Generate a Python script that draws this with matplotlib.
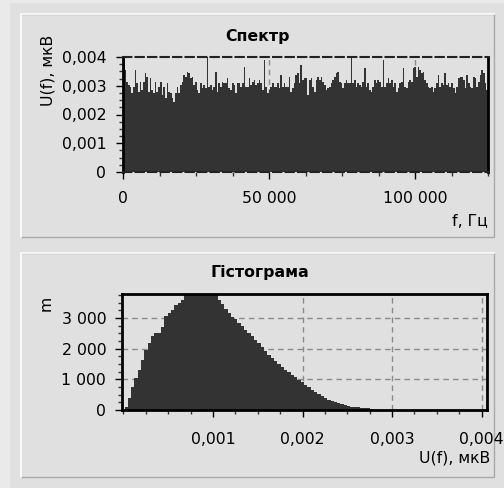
import numpy as np
import matplotlib
matplotlib.use("Agg")
import matplotlib.pyplot as plt
from matplotlib.patches import Rectangle
from matplotlib.lines import Line2D
from matplotlib.ticker import FuncFormatter, MultipleLocator

# ---------------- data ----------------
spec_fmax = 125000
spec_vals = [
    0.00400, 0.00355, 0.00314, 0.00303, 0.00297, 0.00274, 0.00297, 0.00355, 0.00308, 0.00279,
    0.00314, 0.00285, 0.00314, 0.00343, 0.00332, 0.00279, 0.00326, 0.00285, 0.00274, 0.00314,
    0.00279, 0.00297, 0.00314, 0.00268, 0.00297, 0.00256, 0.00308, 0.00279, 0.00274, 0.00256,
    0.00245, 0.00274, 0.00297, 0.00274, 0.00303, 0.00314, 0.00337, 0.00332, 0.00349, 0.00343,
    0.00326, 0.00332, 0.00303, 0.00314, 0.00285, 0.00274, 0.00308, 0.00291, 0.00303, 0.00291,
    0.00400, 0.00297, 0.00303, 0.00285,
    0.00297, 0.00349, 0.00279, 0.00308, 0.00297, 0.00314, 0.00308, 0.00308, 0.00326, 0.00291,
    0.00285, 0.00308, 0.00303, 0.00274, 0.00308, 0.00308, 0.00297, 0.00308, 0.00366, 0.00297,
    0.00297, 0.00326, 0.00303, 0.00314, 0.00320, 0.00303, 0.00308, 0.00320, 0.00308, 0.00285,
    0.00390, 0.00297, 0.00274, 0.00285, 0.00297, 0.00308, 0.00297, 0.00297, 0.00308, 0.00291,
    0.00337, 0.00297, 0.00308, 0.00297, 0.00297, 0.00332, 0.00279, 0.00291, 0.00308, 0.00337,
    0.00343, 0.00308, 0.00372, 0.00320, 0.00326,
    0.00326, 0.00268, 0.00320, 0.00326, 0.00297, 0.00279, 0.00320, 0.00332, 0.00320, 0.00332,
    0.00314, 0.00303, 0.00285, 0.00291, 0.00297, 0.00308, 0.00320, 0.00332, 0.00343, 0.00349,
    0.00314, 0.00308, 0.00291, 0.00308, 0.00320, 0.00308, 0.00308, 0.00400, 0.00308, 0.00320,
    0.00297, 0.00308, 0.00303, 0.00297, 0.00314, 0.00361, 0.00297, 0.00308, 0.00285, 0.00279,
    0.00297, 0.00320, 0.00308, 0.00320, 0.00314, 0.00297, 0.00390, 0.00297, 0.00308, 0.00326,
    0.00308, 0.00320, 0.00297, 0.00308, 0.00279,
    0.00291, 0.00308, 0.00314, 0.00361, 0.00297, 0.00291, 0.00314, 0.00320, 0.00314, 0.00361,
    0.00366, 0.00332, 0.00366, 0.00355, 0.00343, 0.00349, 0.00320, 0.00308, 0.00297, 0.00291,
    0.00297, 0.00279, 0.00291, 0.00308, 0.00337, 0.00297, 0.00308, 0.00303, 0.00343, 0.00303,
    0.00308, 0.00297, 0.00308, 0.00291, 0.00274, 0.00297, 0.00326, 0.00332, 0.00332, 0.00320,
    0.00291, 0.00337, 0.00308, 0.00297, 0.00291, 0.00332, 0.00326, 0.00297, 0.00314, 0.00337,
    0.00355, 0.00343, 0.00308, 0.00285,
]
spec_xticks = [0, 50000, 100000]
spec_yticks = [0, 0.001, 0.002, 0.003, 0.004]

hist_start = 0.0000123
hist_bin_w = 0.0000371
hist_counts = [
    100, 390, 740, 1040, 1315, 1640, 1970, 2180, 2420, 2510,
    2510, 2700, 3050, 3160, 3270, 3410, 3490, 3600, 3820, 3850,
    3800, 3900, 3880, 3760, 3790, 3870, 3830, 3800, 3600, 3460,
    3300, 3160, 3020, 2950, 2840, 2730, 2620, 2510, 2400, 2290,
    2180, 2040, 1910, 1800, 1700, 1610, 1500, 1390, 1315, 1230,
    1150, 1065, 990, 900, 820, 740, 660, 590, 530, 470,
    400, 340, 300, 255, 220, 185, 150, 130, 110, 85,
    100, 70, 55, 80, 25, 10,
]
hist_xticks = [0.001, 0.002, 0.003, 0.004]
hist_yticks = [0, 1000, 2000, 3000]

# ---------------- style ----------------
W, H = 504, 488
BG = "#e0e0e0"
BAR = "#333333"
GRID = "#8a8a8a"
FS = 11.3
plt.rcParams["font.family"] = ["DejaVu Sans"]

fig = plt.figure(figsize=(W / 100, H / 100), dpi=100)
fig.patch.set_facecolor("#eaeaea")


def px(x, y):
    return x / W, 1 - y / H


def frect(x0, y0, x1, y1, **kw):
    fig.add_artist(Rectangle((x0 / W, 1 - y1 / H), (x1 - x0) / W, (y1 - y0) / H,
                             transform=fig.transFigure, zorder=-10, **kw))


def fline(xs, ys, **kw):
    fig.add_artist(Line2D([x / W for x in xs], [1 - y / H for y in ys],
                          transform=fig.transFigure, zorder=-5, **kw))


# outer area
frect(10, 3, W + 2, H + 2, facecolor=BG, edgecolor="none")
# group panels
for (x0, y0, x1, y1) in [(20.5, 14, 494, 237), (20.5, 253, 494, 477)]:
    fline([x0, x1, x1, x0], [y1, y1, y0, y0], color="#a8a8a8", lw=1.0)
    fline([x0, x0, x1], [y1, y0, y0], color="white", lw=1.2)


def comma_fmt(dec):
    def f(v, pos):
        if abs(v) < 1e-12:
            return "0"
        return f"{v:.{dec}f}".replace(".", ",")
    return FuncFormatter(f)


def space_fmt(v, pos):
    return f"{int(round(v)):,}".replace(",", " ")


def style_axes(ax):
    ax.set_facecolor(BG)
    ax.set_zorder(5)
    ax.tick_params(which="major", length=5, width=1, color="black", labelsize=FS)
    ax.tick_params(which="minor", length=3, width=1, color="#333333")
    for s in ["left", "right"]:
        ax.spines[s].set_linewidth(2)
        ax.spines[s].set_color("black")


# ---------------- spectrum ----------------
ax1 = fig.add_axes([123 / W, 1 - 172 / H, 365 / W, 115 / H])
style_axes(ax1)
n = len(spec_vals)
step = spec_fmax / n
freqs = np.arange(n) * step
ax1.bar(freqs, spec_vals, width=step, align="edge", color=BAR, linewidth=0, zorder=2)
ax1.set_xlim(0, spec_fmax)
ax1.set_ylim(0, 0.004)
ax1.set_xticks(spec_xticks)
ax1.set_yticks(spec_yticks)
ax1.xaxis.set_minor_locator(MultipleLocator(12500))
ax1.yaxis.set_minor_locator(MultipleLocator(0.00025))
ax1.xaxis.set_major_formatter(FuncFormatter(space_fmt))
ax1.yaxis.set_major_formatter(comma_fmt(3))
ax1.tick_params(axis="x", pad=9)
ax1.tick_params(axis="y", pad=7)
ax1.grid(True, axis="x", which="major", linestyle=(0, (4, 3)), color=GRID, lw=1)
ax1.set_axisbelow(True)
for s in ["top", "bottom"]:
    ax1.spines[s].set_linestyle((0, (4, 2)))
    ax1.spines[s].set_linewidth(1.5)
    ax1.spines[s].set_color("#222222")

fig.text(*px(258, 36), "Спектр", ha="center", va="center", fontsize=FS, fontweight="bold")
fig.text(*px(48, 70), "U(f), мкВ", ha="center", va="center", rotation=90, fontsize=FS)
fig.text(*px(488, 222), "f, Гц", ha="right", va="center", fontsize=FS)

# ---------------- histogram ----------------
ax2 = fig.add_axes([121.5 / W, 1 - 410 / H, 365.5 / W, 116 / H])
style_axes(ax2)
edges = hist_start + np.arange(len(hist_counts)) * hist_bin_w
ax2.bar(edges, hist_counts, width=hist_bin_w, align="edge", color=BAR, linewidth=0, zorder=2)
ax2.set_xlim(-0.0000215, 0.00406)
ax2.set_ylim(0, 3780)
ax2.set_xticks(hist_xticks)
ax2.set_yticks(hist_yticks)
ax2.xaxis.set_minor_locator(MultipleLocator(0.00025))
ax2.yaxis.set_minor_locator(MultipleLocator(250))
ax2.xaxis.set_major_formatter(comma_fmt(3))
ax2.yaxis.set_major_formatter(FuncFormatter(space_fmt))
ax2.tick_params(axis="x", pad=11)
ax2.tick_params(axis="y", pad=6)
ax2.grid(True, which="major", linestyle=(0, (4, 3)), color=GRID, lw=1)
ax2.set_axisbelow(True)
for s in ["top", "bottom"]:
    ax2.spines[s].set_linewidth(2)
    ax2.spines[s].set_color("black")

fig.text(*px(260, 273), "Гістограма", ha="center", va="center", fontsize=FS, fontweight="bold")
fig.text(*px(46, 303), "m", ha="center", va="center", rotation=90, fontsize=FS)
fig.text(*px(490, 458), "U(f), мкВ", ha="right", va="center", fontsize=FS)

fig.savefig("out.png", dpi=100, facecolor=fig.get_facecolor())
